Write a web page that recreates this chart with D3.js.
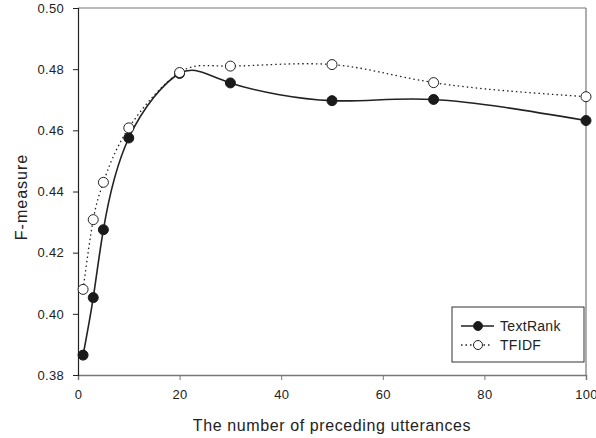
<!DOCTYPE html>
<html>
<head>
<meta charset="utf-8">
<script src="https://cdn.jsdelivr.net/npm/d3@7"></script>
<style>
  body { margin: 0; background: #fff; }
  text { font-family: "Liberation Sans", Arial, sans-serif; fill: #222; }
</style>
</head>
<body>
<div id="chart"></div>
<script>
// data
var xValues = [1, 3, 5, 10, 20, 30, 50, 70, 100];
var textRank = [0.3865, 0.4053, 0.4275, 0.4575, 0.4786, 0.4755, 0.4697, 0.4701, 0.4632];
var tfidf = [0.4080, 0.4308, 0.4430, 0.4608, 0.4789, 0.4810, 0.4815, 0.4756, 0.4710];
var xTicks = [0, 20, 40, 60, 80, 100];
var yTicks = [0.38, 0.40, 0.42, 0.44, 0.46, 0.48, 0.50];
var seriesNames = ["TextRank", "TFIDF"];

var width = 596, height = 438;
var margin = {top: 8, right: 10, bottom: 63, left: 78};

var svg = d3.select("#chart").append("svg")
  .attr("width", width)
  .attr("height", height);

var x = d3.scaleLinear().domain([0, 100]).range([margin.left, width - margin.right]);
var y = d3.scaleLinear().domain([0.38, 0.50]).range([height - margin.bottom, margin.top]);

// frame (top / right, gray)
svg.append("line")
  .attr("x1", x(0)).attr("x2", x(100))
  .attr("y1", y(0.50)).attr("y2", y(0.50))
  .attr("stroke", "#777").attr("stroke-width", 1.2);
svg.append("line")
  .attr("x1", x(100)).attr("x2", x(100))
  .attr("y1", y(0.50)).attr("y2", y(0.38))
  .attr("stroke", "#777").attr("stroke-width", 1.2);

// axes
var xAxis = svg.append("g")
  .attr("transform", "translate(0," + y(0.38) + ")")
  .call(d3.axisBottom(x).tickValues(xTicks).tickFormat(d3.format("d")).tickSize(5).tickPadding(10));
xAxis.select(".domain").attr("stroke", "#777").attr("stroke-width", 1.5);
xAxis.selectAll(".tick line").attr("stroke", "#777");

var yAxis = svg.append("g")
  .attr("transform", "translate(" + x(0) + ",0)")
  .call(d3.axisLeft(y).tickValues(yTicks).tickFormat(d3.format(".2f")).tickSize(5).tickPadding(9));
yAxis.select(".domain").attr("stroke", "#222").attr("stroke-width", 1.2);
yAxis.selectAll(".tick line").attr("stroke", "#222");

svg.selectAll(".tick text")
  .style("font-size", "13px")
  .style("letter-spacing", "0.3px")
  .attr("fill", "#222");

// axis titles
svg.append("text")
  .attr("x", (x(0) + x(100)) / 2)
  .attr("y", 431)
  .attr("text-anchor", "middle")
  .style("font-size", "16px")
  .style("letter-spacing", "0.6px")
  .text("The number of preceding utterances");

svg.append("text")
  .attr("transform", "translate(27,197) rotate(-90)")
  .attr("text-anchor", "middle")
  .style("font-size", "16px")
  .style("letter-spacing", "1px")
  .text("F-measure");

// series
var line = d3.line()
  .x(function(d, i) { return x(xValues[i]); })
  .y(function(d) { return y(d); })
  .curve(d3.curveNatural);

svg.append("path")
  .datum(tfidf)
  .attr("d", line)
  .attr("fill", "none")
  .attr("stroke", "#222")
  .attr("stroke-width", 1.3)
  .attr("stroke-dasharray", "1.5,3");

svg.append("path")
  .datum(textRank)
  .attr("d", line)
  .attr("fill", "none")
  .attr("stroke", "#222")
  .attr("stroke-width", 1.6);

svg.selectAll(".dot-tr")
  .data(textRank)
  .enter().append("circle")
    .attr("class", "dot-tr")
    .attr("cx", function(d, i) { return x(xValues[i]); })
    .attr("cy", function(d) { return y(d); })
    .attr("r", 5)
    .attr("fill", "#1a1a1a")
    .attr("stroke", "#1a1a1a");

svg.selectAll(".dot-tf")
  .data(tfidf)
  .enter().append("circle")
    .attr("class", "dot-tf")
    .attr("cx", function(d, i) { return x(xValues[i]); })
    .attr("cy", function(d) { return y(d); })
    .attr("r", 5)
    .attr("fill", "#fff")
    .attr("stroke", "#222")
    .attr("stroke-width", 1);

// legend
var legend = svg.append("g").attr("transform", "translate(452,307)");
legend.append("rect")
  .attr("width", 132).attr("height", 55)
  .attr("fill", "#fff").attr("stroke", "#333").attr("stroke-width", 1);

seriesNames.forEach(function(name, i) {
  var ly = 19 + i * 19;
  legend.append("line")
    .attr("x1", 9).attr("x2", i == 0 ? 42 : 40).attr("y1", ly).attr("y2", ly)
    .attr("stroke", "#222")
    .attr("stroke-width", i == 0 ? 1.6 : 1.3)
    .attr("stroke-dasharray", i == 0 ? null : "1.5,3");
  legend.append("circle")
    .attr("cx", 26).attr("cy", ly).attr("r", 4.5)
    .attr("fill", i == 0 ? "#1a1a1a" : "#fff")
    .attr("stroke", "#222");
  legend.append("text")
    .attr("x", 48).attr("y", ly)
    .attr("dy", "0.35em")
    .style("font-size", "14px")
    .style("letter-spacing", "0.3px")
    .text(name);
});
</script>
</body>
</html>
